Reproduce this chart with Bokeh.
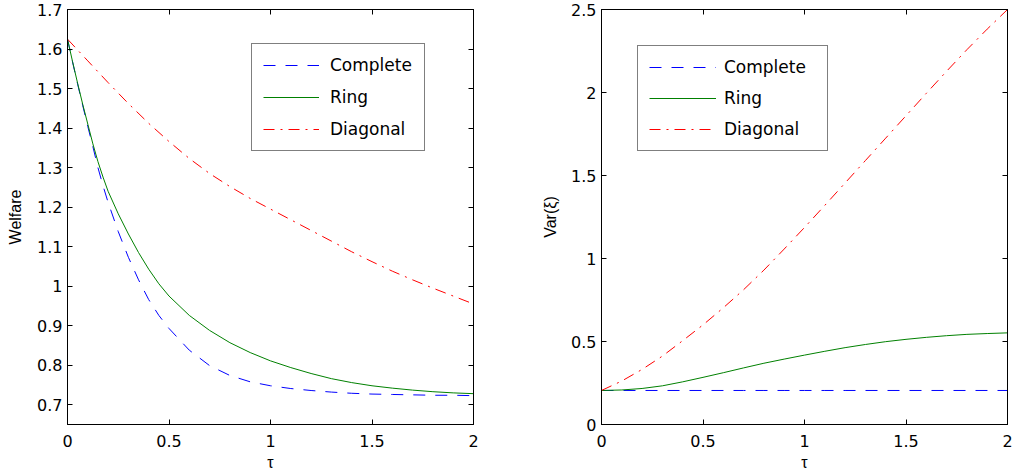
from bokeh.plotting import figure
from bokeh.layouts import row
from bokeh.models import FixedTicker, LinearAxis, Range1d, Legend, LegendItem
from bokeh.embed import file_html
from bokeh.resources import INLINE

# ---------------- data ----------------
series_names = ["Complete", "Ring", "Diagonal"]

tau_w = [0, 0.025, 0.05, 0.075, 0.1, 0.125, 0.15, 0.175, 0.2, 0.25, 0.3, 0.35,
         0.4, 0.45, 0.5, 0.6, 0.7, 0.8, 0.9, 1.0, 1.1, 1.2, 1.3, 1.4, 1.5, 1.6,
         1.7, 1.8, 1.9, 2.0]
welfare_complete = [1.625, 1.567, 1.511, 1.457, 1.404, 1.353, 1.300, 1.254, 1.212,
                    1.138, 1.073, 1.016, 0.966, 0.926, 0.893, 0.838, 0.799, 0.774,
                    0.758, 0.748, 0.741, 0.736, 0.732, 0.729, 0.727, 0.726, 0.725,
                    0.724, 0.724, 0.723]
welfare_ring = [1.625, 1.568, 1.513, 1.460, 1.410, 1.360, 1.315, 1.276, 1.240,
                1.183, 1.132, 1.085, 1.043, 1.006, 0.975, 0.926, 0.888, 0.857,
                0.832, 0.811, 0.794, 0.779, 0.766, 0.756, 0.748, 0.742, 0.737,
                0.733, 0.730, 0.728]

tau_d = [0, 0.1, 0.2, 0.3, 0.4, 0.5, 0.6, 0.7, 0.8, 0.9, 1.0, 1.1, 1.2, 1.3,
         1.4, 1.5, 1.6, 1.7, 1.8, 1.9, 2.0]
welfare_diagonal = [1.625, 1.570, 1.515, 1.462, 1.412, 1.366, 1.323, 1.285, 1.252,
                    1.222, 1.195, 1.168, 1.141, 1.114, 1.087, 1.062, 1.038, 1.016,
                    0.995, 0.975, 0.955]

tau_v = [0, 0.1, 0.2, 0.3, 0.4, 0.5, 0.6, 0.7, 0.8, 0.9, 1.0, 1.1, 1.2, 1.3,
         1.4, 1.5, 1.6, 1.7, 1.8, 1.9, 2.0]
var_complete = [0.205, 0.205, 0.205, 0.205, 0.205, 0.205, 0.205, 0.205, 0.205,
                0.205, 0.205, 0.205, 0.205, 0.205, 0.205, 0.205, 0.205, 0.205,
                0.205, 0.205, 0.205]
var_ring = [0.205, 0.208, 0.217, 0.233, 0.257, 0.284, 0.312, 0.341, 0.369, 0.394,
            0.418, 0.441, 0.463, 0.482, 0.499, 0.513, 0.525, 0.535, 0.543, 0.548,
            0.552]
var_diagonal = [0.205, 0.262, 0.332, 0.412, 0.505, 0.600, 0.703, 0.812, 0.930,
                1.057, 1.187, 1.320, 1.455, 1.590, 1.725, 1.860, 1.995, 2.128,
                2.258, 2.382, 2.500]

x_ticks = [0, 0.5, 1, 1.5, 2]
x_tick_labels = ["0", "0.5", "1", "1.5", "2"]
welfare_ticks = [0.7, 0.8, 0.9, 1, 1.1, 1.2, 1.3, 1.4, 1.5, 1.6, 1.7]
welfare_tick_labels = ["0.7", "0.8", "0.9", "1", "1.1", "1.2", "1.3", "1.4",
                       "1.5", "1.6", "1.7"]
var_ticks = [0, 0.5, 1, 1.5, 2, 2.5]
var_tick_labels = ["0", "0.5", "1", "1.5", "2", "2.5"]

# ---------------- styling ----------------
TICK_FONT = "DejaVu Sans"
TICK_SIZE = "16px"
TITLE_FONT = "Liberation Sans"
TITLE_SIZE = "16px"
LEG_FONT = "DejaVu Sans"
LEG_SIZE = "17px"

C_BLUE = "#0000ff"
C_GREEN = "#008000"
C_RED = "#ff0000"
DASH_C = "12 10"
DASH_D = "11 6 2 6"


def style_axis(ax, ticks, labels, show_labels=True):
    ax.ticker = FixedTicker(ticks=ticks)
    ax.axis_line_color = "black"
    ax.axis_line_width = 1
    ax.major_tick_line_color = "black"
    ax.major_tick_in = 5
    ax.major_tick_out = 0
    ax.minor_tick_line_color = None
    if show_labels:
        ax.major_label_overrides = dict(zip(ticks, labels))
        ax.major_label_text_font = TICK_FONT
        ax.major_label_text_font_size = TICK_SIZE
        ax.major_label_text_color = "black"
    else:
        ax.major_label_text_color = None
        ax.major_label_standoff = 0
    ax.axis_label_text_font = TITLE_FONT
    ax.axis_label_text_font_size = TITLE_SIZE
    ax.axis_label_text_font_style = "normal"
    ax.axis_label_text_color = "black"


def make_panel(width, b_left, b_right, y_lo, y_hi, y_ticks, y_labels, y_title,
               y_std, y_title_std):
    p = figure(width=width, height=476, x_range=Range1d(0, 2),
               y_range=Range1d(y_lo, y_hi), output_backend="svg",
               toolbar_location=None, min_border_left=b_left,
               min_border_right=b_right, min_border_top=9, min_border_bottom=52)
    p.grid.visible = False
    p.outline_line_color = "black"
    p.background_fill_color = "white"
    p.border_fill_color = "white"
    style_axis(p.xaxis[0], x_ticks, x_tick_labels)
    p.xaxis[0].axis_label = "τ"
    p.xaxis[0].major_label_standoff = 10
    p.xaxis[0].axis_label_standoff = 4
    style_axis(p.yaxis[0], y_ticks, y_labels)
    p.yaxis[0].axis_label = y_title
    p.yaxis[0].major_label_standoff = y_std
    p.yaxis[0].axis_label_standoff = y_title_std
    top = LinearAxis()
    style_axis(top, x_ticks, x_tick_labels, show_labels=False)
    p.add_layout(top, "above")
    right = LinearAxis()
    style_axis(right, y_ticks, y_labels, show_labels=False)
    p.add_layout(right, "right")
    return p


def add_legend(p, renderers, loc, glyph_w, standoff, label_w, spacing):
    items = [LegendItem(label=n, renderers=[r]) for n, r in zip(series_names, renderers)]
    leg = Legend(items=items, location=loc, orientation="vertical",
                 padding=11, spacing=spacing, margin=0,
                 glyph_width=glyph_w, glyph_height=20, label_height=20,
                 label_width=label_w, label_standoff=standoff,
                 label_text_font=LEG_FONT, label_text_font_size=LEG_SIZE,
                 label_text_color="black",
                 border_line_color="black", border_line_width=1,
                 background_fill_color="white", background_fill_alpha=1.0)
    p.add_layout(leg)


# ---------------- left panel ----------------
p1 = make_panel(530, 67, 57, 0.65, 1.7, welfare_ticks, welfare_tick_labels,
                "Welfare", 5, 10)
r1 = p1.line(tau_w, welfare_complete, line_color=C_BLUE, line_width=1, line_dash=DASH_C)
r2 = p1.line(tau_w, welfare_ring, line_color=C_GREEN, line_width=1)
r3 = p1.line(tau_d, welfare_diagonal, line_color=C_RED, line_width=1, line_dash=DASH_D)
add_legend(p1, [r1, r2, r3], (184, 273), 56, 11, 83, 12)

# ---------------- right panel ----------------
p2 = make_panel(483, 71, 6, 0, 2.5, var_ticks, var_tick_labels,
                "Var(ξ)", 5, 9)
s1 = p2.line(tau_v, var_complete, line_color=C_BLUE, line_width=1, line_dash=DASH_C)
s2 = p2.line(tau_v, var_ring, line_color=C_GREEN, line_width=1)
s3 = p2.line(tau_v, var_diagonal, line_color=C_RED, line_width=1, line_dash=DASH_D)
add_legend(p2, [s1, s2, s3], (36, 273), 67, 8, 92, 11)

layout = row(p1, p2)
open("out.html", "w").write(file_html(layout, INLINE))
